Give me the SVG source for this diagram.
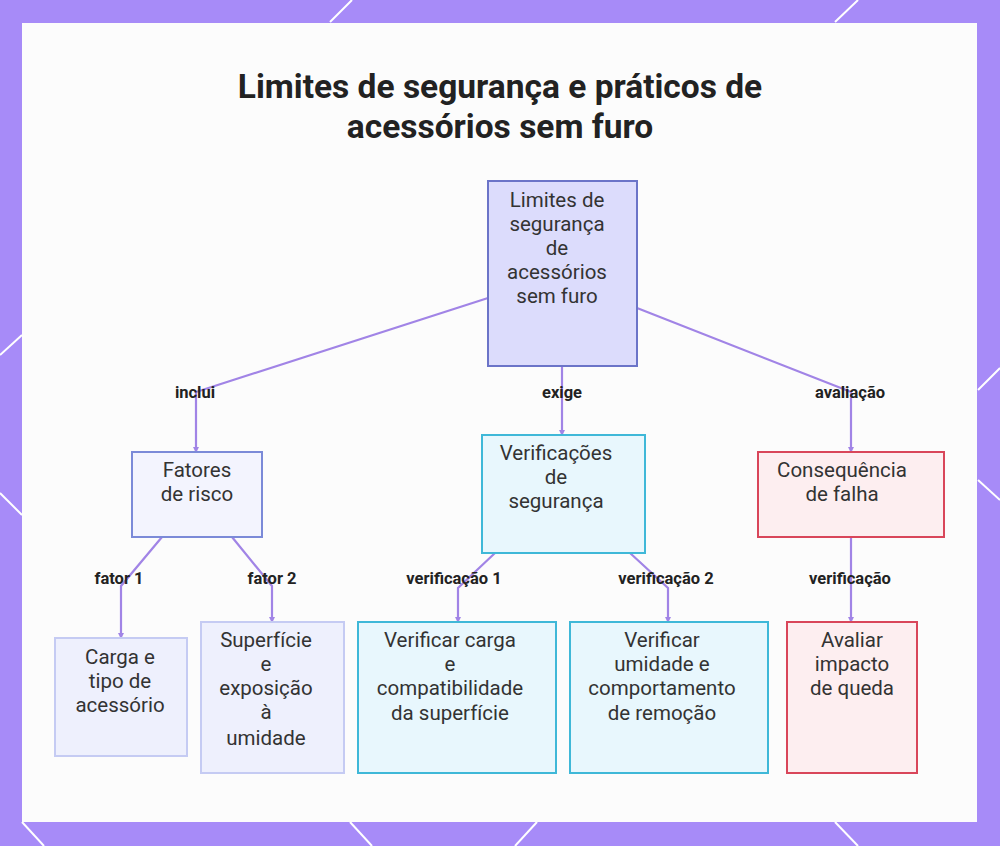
<svg xmlns="http://www.w3.org/2000/svg" width="1000" height="846" viewBox="0 0 1000 846">
<defs>
<style>
.n{font-family:Roboto,"Liberation Sans",sans-serif;font-size:20.5px;fill:#333;text-anchor:middle}
.l{font-family:Roboto,"Liberation Sans",sans-serif;font-size:16.5px;font-weight:bold;fill:#222;text-anchor:middle}
.c{fill:none;stroke:#a184e6;stroke-width:2.2}
.dl{stroke:#fff;stroke-width:2}
</style>
<marker id="a" markerWidth="6" markerHeight="6" refX="5" refY="3" orient="auto" markerUnits="userSpaceOnUse"><path d="M0,0L6,3L0,6z" fill="#a184e6"/></marker>
</defs>
<rect width="1000" height="846" fill="#a78bf8"/>
<g class="dl">
<line x1="330" y1="22" x2="352" y2="0"/><line x1="835" y1="22" x2="858" y2="0"/>
<line x1="0" y1="493" x2="22" y2="515"/><line x1="0" y1="355" x2="22" y2="335"/>
<line x1="978" y1="390" x2="1000" y2="368"/><line x1="978" y1="480" x2="1000" y2="500"/>
<line x1="22" y1="822" x2="44" y2="846"/><line x1="350" y1="822" x2="372" y2="846"/>
<line x1="515" y1="846" x2="537" y2="822"/><line x1="835" y1="822" x2="858" y2="846"/>
</g>
<rect x="22" y="23" width="955" height="799" fill="#fcfcfc"/>
<text x="500" y="98" font-family="Roboto,'Liberation Sans',sans-serif" font-size="33.5" font-weight="bold" fill="#222" text-anchor="middle">Limites de segurança e práticos de</text>
<text x="500" y="138" font-family="Roboto,'Liberation Sans',sans-serif" font-size="33.5" font-weight="bold" fill="#222" text-anchor="middle">acessórios sem furo</text>
<g id="connectors">
<polyline class="c" marker-end="url(#a)" points="488,298 196,392 196,452"/>
<polyline class="c" marker-end="url(#a)" points="562,366 562,435"/>
<polyline class="c" marker-end="url(#a)" points="637,308 851,392 851,452"/>
<polyline class="c" marker-end="url(#a)" points="162,537 121,586 121,638"/>
<polyline class="c" marker-end="url(#a)" points="232,537 272,586 272,622"/>
<polyline class="c" marker-end="url(#a)" points="495,553 458,588 458,622"/>
<polyline class="c" marker-end="url(#a)" points="630,553 668,588 668,622"/>
<polyline class="c" marker-end="url(#a)" points="851,537 851,622"/>
<text class="l" x="195" y="398">inclui</text>
<text class="l" x="562" y="398">exige</text>
<text class="l" x="850" y="398">avaliação</text>
<text class="l" x="119" y="584">fator 1</text>
<text class="l" x="272" y="584">fator 2</text>
<text class="l" x="454" y="584">verificação 1</text>
<text class="l" x="666" y="584">verificação 2</text>
<text class="l" x="850" y="584">verificação</text>
</g>
<g id="root"><rect x="488" y="181" width="149" height="185" fill="#dcdcfc" stroke="#6b74c8" stroke-width="2"/>
<text class="n" x="557" y="207">Limites de</text><text class="n" x="557" y="231">segurança</text><text class="n" x="557" y="255">de</text><text class="n" x="557" y="279">acessórios</text><text class="n" x="557" y="303">sem furo</text></g>
<g id="fatores"><rect x="132" y="452" width="130" height="85" fill="#f3f4fe" stroke="#7b8ad8" stroke-width="2"/>
<text class="n" x="197" y="477">Fatores</text><text class="n" x="197" y="501">de risco</text></g>
<g id="verificacoes"><rect x="482" y="435" width="163" height="118" fill="#e8f7fd" stroke="#3fb8d8" stroke-width="2"/>
<text class="n" x="556" y="460">Verificações</text><text class="n" x="556" y="484">de</text><text class="n" x="556" y="508">segurança</text></g>
<g id="consequencia"><rect x="758" y="452" width="186" height="85" fill="#fdeef0" stroke="#d9465a" stroke-width="2"/>
<text class="n" x="842" y="477">Consequência</text><text class="n" x="842" y="501">de falha</text></g>
<g id="carga"><rect x="55" y="638" width="132" height="118" fill="#eef0fd" stroke="#c5cbf3" stroke-width="2"/>
<text class="n" x="120" y="664">Carga e</text><text class="n" x="120" y="688">tipo de</text><text class="n" x="120" y="712">acessório</text></g>
<g id="superficie"><rect x="201" y="622" width="143" height="151" fill="#eef0fd" stroke="#c5cbf3" stroke-width="2"/>
<text class="n" x="266" y="647">Superfície</text><text class="n" x="266" y="671">e</text><text class="n" x="266" y="695">exposição</text><text class="n" x="266" y="719">à</text><text class="n" x="266" y="745">umidade</text></g>
<g id="vcarga"><rect x="358" y="622" width="198" height="151" fill="#e8f7fd" stroke="#3fb8d8" stroke-width="2"/>
<text class="n" x="450" y="647">Verificar carga</text><text class="n" x="450" y="671">e</text><text class="n" x="450" y="695">compatibilidade</text><text class="n" x="450" y="720">da superfície</text></g>
<g id="vumidade"><rect x="570" y="622" width="198" height="151" fill="#e8f7fd" stroke="#3fb8d8" stroke-width="2"/>
<text class="n" x="662" y="647">Verificar</text><text class="n" x="662" y="671">umidade e</text><text class="n" x="662" y="695">comportamento</text><text class="n" x="662" y="720">de remoção</text></g>
<g id="avaliar"><rect x="787" y="622" width="130" height="151" fill="#fdeef0" stroke="#d9465a" stroke-width="2"/>
<text class="n" x="852" y="647">Avaliar</text><text class="n" x="852" y="671">impacto</text><text class="n" x="852" y="695">de queda</text></g>
</svg>
